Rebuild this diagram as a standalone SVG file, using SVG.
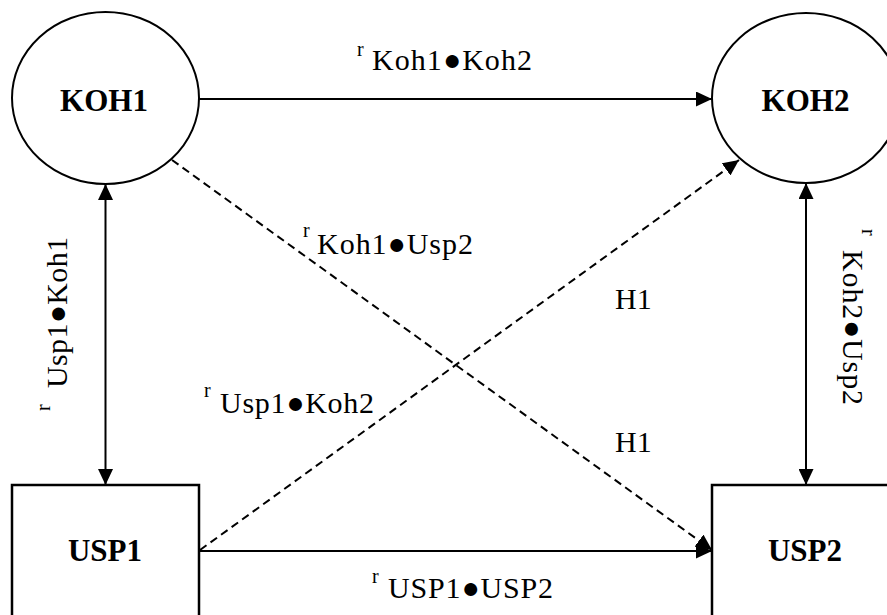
<svg xmlns="http://www.w3.org/2000/svg" width="887" height="615" viewBox="0 0 887 615">
<style>
text{font-family:"Liberation Serif","Times New Roman",serif;fill:#000}
.node{fill:#fff;stroke:#000;stroke-width:2}
.box{fill:#fff;stroke:#000;stroke-width:2.5}
.nl{font-weight:bold;font-size:31px;text-anchor:middle}
.t{font-size:30px}
.r{font-size:20px}
.c{stroke:#000;stroke-width:2;fill:none}
.d{stroke:#000;stroke-width:2;fill:none;stroke-dasharray:8 5}
</style>
<defs>
<marker id="arr" viewBox="0 0 16 15" refX="16" refY="7.5" markerWidth="16" markerHeight="15" orient="auto-start-reverse" markerUnits="userSpaceOnUse">
<path d="M0,0 L16,7.5 L0,15 z" fill="#000"/>
</marker>
</defs>
<rect width="887" height="615" fill="#fff"/>
<g id="connectors">
<line class="c" x1="199" y1="99" x2="712" y2="99" marker-end="url(#arr)"/>
<line class="c" x1="199" y1="551" x2="712" y2="551" marker-end="url(#arr)"/>
<line class="c" x1="105.5" y1="184" x2="105.5" y2="485" marker-start="url(#arr)" marker-end="url(#arr)"/>
<line class="c" x1="806" y1="183" x2="806" y2="485" marker-start="url(#arr)" marker-end="url(#arr)"/>
<line class="d" x1="172" y1="160" x2="712" y2="550" marker-end="url(#arr)"/>
<line class="d" x1="200" y1="550" x2="739" y2="160" marker-end="url(#arr)"/>
</g>
<g id="KOH1">
<ellipse class="node" cx="105.5" cy="98" rx="93.5" ry="86"/>
<text class="nl" x="104" y="111">KOH1</text>
</g>
<g id="KOH2">
<ellipse class="node" cx="806" cy="98" rx="94" ry="85"/>
<text class="nl" x="805.5" y="111">KOH2</text>
</g>
<g id="USP1">
<rect class="box" x="12" y="485" width="187" height="150"/>
<text class="nl" x="105" y="561">USP1</text>
</g>
<g id="USP2">
<rect class="box" x="712" y="485" width="200" height="150"/>
<text class="nl" x="805" y="561">USP2</text>
</g>
<g id="labels">
<text class="r" x="357" y="56">r</text>
<text class="t" x="372" y="70" textLength="160">Koh1●Koh2</text>
<text class="r" x="372" y="583">r</text>
<text class="t" x="388" y="598" textLength="165">USP1●USP2</text>
<text class="r" x="303" y="237">r</text>
<text class="t" x="317" y="254" textLength="156">Koh1●Usp2</text>
<text class="r" x="204" y="397">r</text>
<text class="t" x="220" y="413" textLength="154">Usp1●Koh2</text>
<text class="t" x="615" y="309">H1</text>
<text class="t" x="615" y="452">H1</text>
<g transform="translate(67,388) rotate(-90)">
<text class="r" x="-23" y="-17">r</text>
<text class="t" x="0" y="0" textLength="151">Usp1●Koh1</text>
</g>
<g transform="translate(843,250) rotate(90)">
<text class="r" x="-21" y="-19">r</text>
<text class="t" x="0" y="0" textLength="155">Koh2●Usp2</text>
</g>
</g>
</svg>
